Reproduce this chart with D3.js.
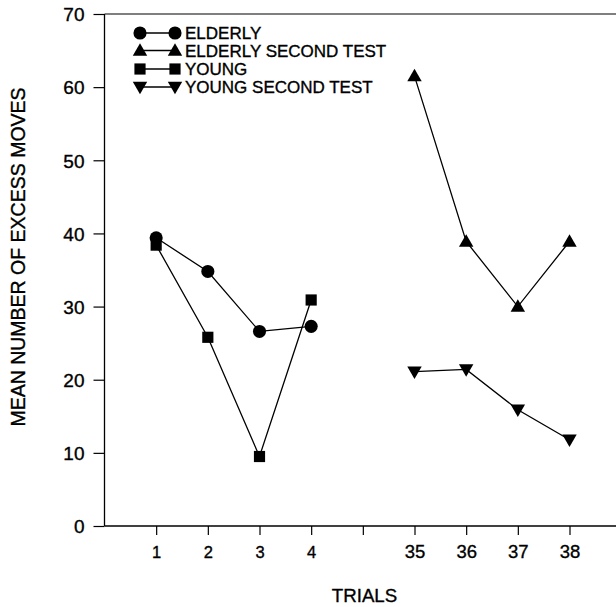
<!DOCTYPE html>
<html><head><meta charset="utf-8">
<script src="https://cdn.jsdelivr.net/npm/d3@7"></script>
<style>body{margin:0;background:#fff}svg{display:block}text{font-family:"Liberation Sans",Arial,sans-serif;fill:#000;stroke:#000;stroke-width:0.35px}</style>
</head><body>
<svg id="c" width="616" height="607"></svg>
<script>
const trialLabels = ["1","2","3","4","35","36","37","38"];
const trialPos = [1,2,3,4,6,7,8,9];
const elderly = [39.4, 34.8, 26.6, 27.3];
const young = [38.4, 25.8, 9.5, 30.9];
const elderlySecond = [61.5, 38.9, 30.0, 38.9];
const youngSecond = [21.1, 21.4, 15.9, 11.8];
const yTicks = [0,10,20,30,40,50,60,70];
const seriesNames = ["ELDERLY","ELDERLY SECOND TEST","YOUNG","YOUNG SECOND TEST"];

const FONT = "Liberation Sans, Arial, sans-serif";
const svg = d3.select("#c");
const x = d3.scaleLinear().domain([0, 9.9]).range([104.5, 616]);
const y = d3.scaleLinear().domain([0, 70]).range([526, 14]);

// axes
const yAxis = d3.axisLeft(y).tickValues(yTicks).tickSize(11).tickPadding(9).tickFormat(d3.format("d"));
const gy = svg.append("g").attr("transform", `translate(${x(0)},0)`).call(yAxis);
gy.select(".domain").attr("d", `M0,${y(0)}V${y(70)}`).attr("stroke","#000").attr("stroke-width",1.3);
gy.selectAll(".tick line").attr("stroke","#000").attr("stroke-width",1.2);
gy.selectAll(".tick text").style("font-size","19px").attr("font-family",FONT).attr("dy","0.36em");

const xAxis = d3.axisBottom(x).tickValues([...trialPos, 5]).tickSize(9).tickPadding(9)
  .tickFormat(d => { const i = trialPos.indexOf(d); return i >= 0 ? trialLabels[i] : ""; });
const gx = svg.append("g").attr("transform", `translate(0,${y(0)})`).call(xAxis);
gx.select(".domain").attr("d", `M${x(0)},0H616`).attr("stroke","#000").attr("stroke-width",1.3);
gx.selectAll(".tick line").attr("stroke","#000").attr("stroke-width",1.2);
gx.selectAll(".tick text").attr("font-family",FONT).attr("y",32).attr("dy",0)
  .style("font-size", d => d > 5 ? "18.5px" : "16.5px");

// top frame line
svg.append("line").attr("x1", x(0)).attr("x2", 616).attr("y1", y(70)).attr("y2", y(70))
  .attr("stroke","#000").attr("stroke-width",1.2);

// titles
svg.append("text").attr("x", 364.5).attr("y", 602).attr("text-anchor","middle")
  .style("font-size","18.7px").text("TRIALS");
svg.append("text").attr("transform", `translate(25,257) rotate(-90)`).attr("text-anchor","middle")
  .style("font-size","19.5px").text("MEAN NUMBER OF EXCESS MOVES");

const shapes = {
  circle: d3.symbol().type(d3.symbolCircle).size(135),
  triUp: d3.symbol().type(d3.symbolTriangle).size(90),
  square: d3.symbol().type(d3.symbolSquare).size(125),
  triDown: d3.symbol().type(d3.symbolTriangle).size(90)
};
const series = [
  {name: seriesNames[0], vals: elderly, pos: trialPos.slice(0,4), shape: "circle"},
  {name: seriesNames[1], vals: elderlySecond, pos: trialPos.slice(4), shape: "triUp"},
  {name: seriesNames[2], vals: young, pos: trialPos.slice(0,4), shape: "square"},
  {name: seriesNames[3], vals: youngSecond, pos: trialPos.slice(4), shape: "triDown"}
];
const line = d3.line().x(d => x(d[0])).y(d => y(d[1]));
function marker(g, shape, cx, cy) {
  const rot = shape === "triDown" ? " rotate(180)" : "";
  const dy = shape === "triUp" ? 1 : (shape === "triDown" ? -1 : 0);
  g.append("path").attr("d", shapes[shape]()).attr("transform", `translate(${cx},${cy+dy})${rot}`).attr("fill","#000");
}
series.forEach(s => {
  const pts = s.vals.map((v,i) => [s.pos[i], v]);
  svg.append("path").attr("d", line(pts)).attr("fill","none").attr("stroke","#000").attr("stroke-width",1.3);
  const g = svg.append("g");
  pts.forEach(p => marker(g, s.shape, x(p[0]), y(p[1])));
});

// legend
const legY = [33, 50.5, 69, 87];
series.forEach((s,i) => {
  const g = svg.append("g");
  g.append("line").attr("x1",140).attr("x2",175).attr("y1",legY[i]).attr("y2",legY[i]).attr("stroke","#000").attr("stroke-width",1.3);
  marker(g, s.shape, 140, legY[i]);
  marker(g, s.shape, 175, legY[i]);
  g.append("text").attr("x",185).attr("y",legY[i]+6).style("font-size","17px").text(s.name);
});
</script>
</body></html>
